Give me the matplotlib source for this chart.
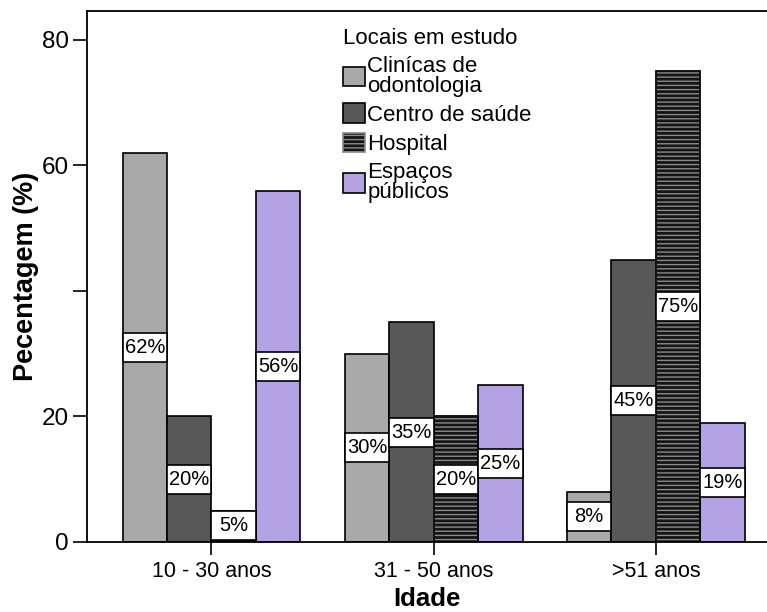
import numpy as np
import matplotlib.pyplot as plt
from matplotlib.patches import Rectangle, Patch

plt.rcParams['font.family'] = ['Liberation Sans', 'DejaVu Sans']
plt.rcParams['hatch.linewidth'] = 1.0

# age groups and study sites
groups = ["10 - 30 anos", "31 - 50 anos", ">51 anos"]
sites = ["Clinícas de\nodontologia", "Centro de saúde", "Hospital", "Espaços\npúblicos"]

clinicas = [62, 30, 8]
centro = [20, 35, 45]
hospital = [5, 20, 75]
espacos = [56, 25, 19]

y_ticks = [0, 20, 40, 60, 80]
y_ticklabels = ["0", "20", "", "60", "80"]

series = [clinicas, centro, hospital, espacos]
face = ["#a9a9a9", "#585858", "#151515", "#b3a2e4"]
hatch = [None, None, "----", None]

fig = plt.figure(figsize=(7.67, 6.12), dpi=100)
ax = fig.add_axes([87 / 767, 70 / 612, 1 - 87 / 767, 531 / 612])

x = np.arange(len(groups))
width = 0.2
offsets = [-0.3, -0.1, 0.1, 0.3]

for vals, fc, h, off in zip(series, face, hatch, offsets):
    bars = ax.bar(x + off, vals, width, color=fc, edgecolor="black",
                  linewidth=1.2, hatch=h, zorder=2)
    if h:
        for b in bars:
            b.set_edgecolor("#8a8a8a")
            ax.bar(b.get_x() + width / 2, b.get_height(), width,
                   fill=False, edgecolor="black", linewidth=1.2, zorder=3)
    # value boxes at mid-height of each bar
    for xi, v in zip(x + off, vals):
        yc = max(v / 2, 2.6)
        ax.add_patch(Rectangle((xi - width / 2, yc - 2.3), width, 4.6,
                               facecolor="white", edgecolor="black",
                               linewidth=1.2, zorder=4))
        ax.text(xi, yc, f"{v}%", ha="center", va="center",
                fontsize=14.5, zorder=5)

ax.set_xlim(-0.56, 2.5)
ax.set_ylim(0, 84.6)
ax.set_yticks(y_ticks)
ax.set_yticklabels(y_ticklabels, fontsize=17.5)
ax.set_xticks(x)
ax.set_xticklabels(groups, fontsize=15.5)
ax.tick_params(axis="y", length=10, width=1.2, pad=3)
ax.tick_params(axis="x", length=9, width=1.2, pad=5)
ax.spines["right"].set_visible(False)
for s in ["left", "top", "bottom"]:
    ax.spines[s].set_linewidth(1.3)

ax.set_ylabel("Pecentagem (%)", fontsize=19.5, fontweight="bold", labelpad=2)
ax.set_xlabel("Idade", fontsize=18.5, fontweight="bold", labelpad=3)

handles = []
for fc, h in zip(face, hatch):
    p = Patch(facecolor=fc, edgecolor="#8a8a8a" if h else "black",
              hatch=h, linewidth=1.2)
    handles.append(p)
leg = ax.legend(handles, sites, title="Locais em estudo", loc="upper left",
                bbox_to_anchor=(0.363, 0.985), frameon=False, fontsize=16,
                title_fontsize=16, handlelength=1.0, handleheight=1.0,
                handletextpad=0.1, labelspacing=0.3, borderaxespad=0)
leg._legend_box.align = "left"
for t in leg.get_texts():
    t.set_linespacing(0.95)

fig.savefig("out.png", dpi=100)
